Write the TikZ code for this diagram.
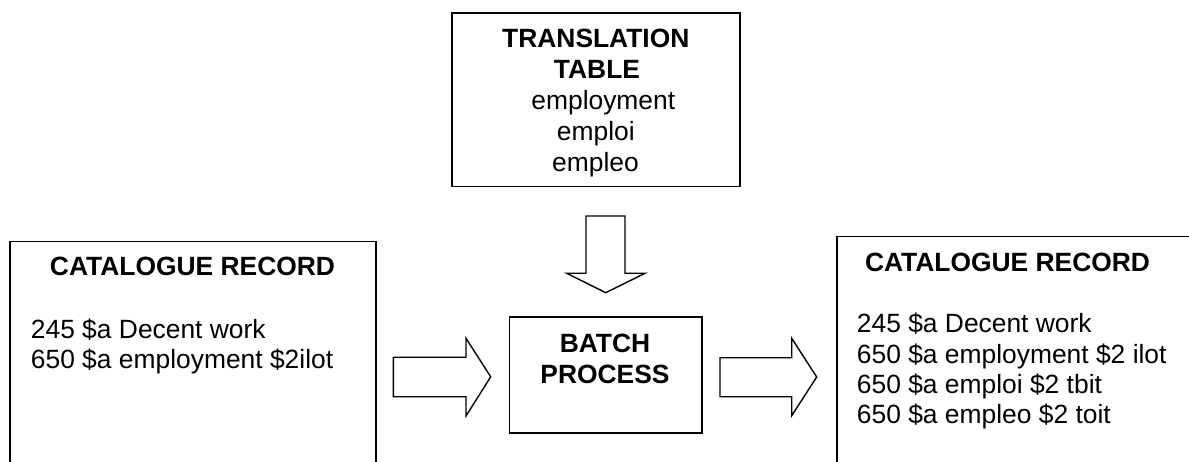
\documentclass[tikz,border=0pt]{standalone}
\usepackage{fontspec}
\setmainfont{Liberation Sans}
\begin{document}
\begin{tikzpicture}[x=1pt,y=-1pt,
  box/.style={draw=black,line width=1.6pt,inner sep=0pt,fill=none},
  txt/.style={inner sep=0pt,font=\fontsize{26.4}{31}\selectfont},
  btxt/.style={txt,font=\fontsize{26.4}{31}\selectfont\bfseries},
  blockarrow/.style={draw=black,line width=1.4pt,line join=miter,fill=white}]
\useasboundingbox (0,0) rectangle (1189,462);
\clip (0,0) rectangle (1189,462);
% boxes
\node[box,minimum width=288.3pt,minimum height=173.4pt] (tt) at (595.85,100) {};
\node[box,minimum width=192.4pt,minimum height=115.4pt] (batch) at (605.5,375) {};
\node[box,minimum width=365.7pt,minimum height=238.3pt] (left) at (192.85,360.85) {};
\node[box,minimum width=363.3pt,minimum height=243.3pt] (right) at (1018.35,358.35) {};
% translation table text
\node[btxt,anchor=base] (tt1) at (595.8,48) {TRANSLATION};
\node[btxt,anchor=base] (tt2) at (597,79) {TABLE};
\node[txt,anchor=base] (tt3) at (603.3,110) {employment};
\node[txt,anchor=base] (tt4) at (595.8,141) {emploi};
\node[txt,anchor=base] (tt5) at (595.5,172) {empleo};
% batch text
\node[btxt,anchor=base] (b1) at (605,352.7) {BATCH};
\node[btxt,anchor=base] (b2) at (605,383.3) {PROCESS};
% left record
\node[btxt,anchor=base] (l0) at (192.5,276) {CATALOGUE RECORD};
\node[txt,anchor=base west] (l1) at (30.7,338) {245 \$a Decent work};
\node[txt,anchor=base west] (l2) at (30.7,368) {650 \$a employment \$2ilot};
% right record
\node[btxt,anchor=base] (r0) at (1007.5,272) {CATALOGUE RECORD};
\node[txt,anchor=base west] (r1) at (856.7,332.7) {245 \$a Decent work};
\node[txt,anchor=base west] (r2) at (856.7,363) {650 \$a employment \$2 ilot};
\node[txt,anchor=base west] (r3) at (856.7,393) {650 \$a emploi \$2 tbit};
\node[txt,anchor=base west] (r4) at (856.7,423) {650 \$a empleo \$2 toit};
% block arrows
\draw[blockarrow] (586,216) -- (625,216) -- (625,273.3) -- (645,273.3) -- (605.7,292.7)
  -- (566.7,273.3) -- (586,273.3) -- cycle;
\draw[blockarrow] (393.3,357.3) -- (466,357.3) -- (466,338.3) -- (490.7,376.8)
  -- (466,416) -- (466,396.7) -- (393.3,396.7) -- cycle;
\draw[blockarrow] (720,357.8) -- (791.7,357.8) -- (791.7,338.3) -- (816.7,377)
  -- (791.7,415.7) -- (791.7,396.7) -- (720,396.7) -- cycle;
\end{tikzpicture}
\end{document}
